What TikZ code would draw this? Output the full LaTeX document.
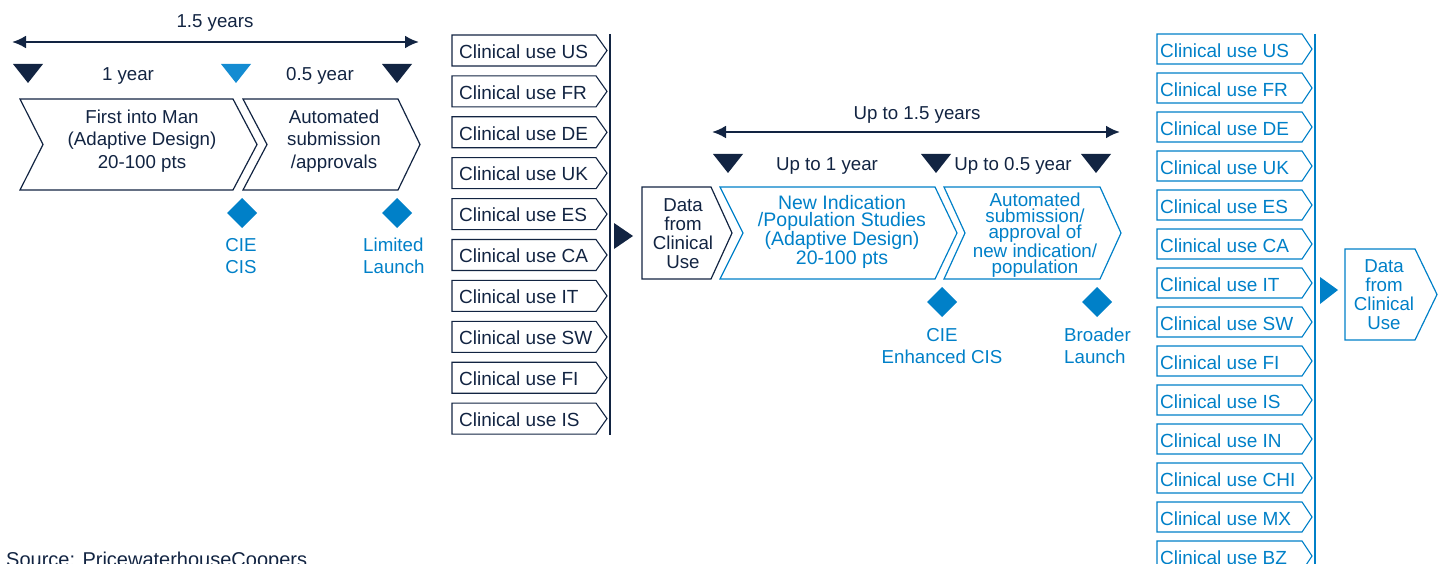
\documentclass[tikz,border=0pt]{standalone}
\usepackage{fontspec}
\setmainfont{Liberation Sans}
\usetikzlibrary{arrows.meta}
\definecolor{navy}{RGB}{18,36,66}
\definecolor{cblue}{RGB}{0,128,200}
\definecolor{tblue}{RGB}{20,140,210}
\newcommand\chevshape[7]{%
  \draw[#1, line width=1.2pt, line join=miter] (#2,#3) -- (#4,#3) -- ({#4+#7},{(#3+#5)/2}) -- (#4,#5) -- (#2,#5) -- ({#2+#6},{(#3+#5)/2}) -- cycle;}
\newcommand\tridown[3]{\fill[#1] ({#2-15},#3) -- ({#2+15},#3) -- (#2,{#3+19}) -- cycle;}
\newcommand\diam[3]{\fill[#1] ({#2-15},#3) -- (#2,{#3-15}) -- ({#2+15},#3) -- (#2,{#3+15}) -- cycle;}
\begin{document}
\begin{tikzpicture}[x=1pt,y=-1pt,
  txt/.style={font=\fontsize{18.7}{22.5}\selectfont, inner sep=0pt},
  boxtxt/.style={font=\fontsize{19}{22.5}\selectfont, inner sep=0pt},
  dimarrow/.style={navy, line width=2.5pt, {Latex[length=14pt,width=13pt]}-{Latex[length=14pt,width=13pt]}}]
\useasboundingbox (0,0) rectangle (1442,564);
\clip (0,0) rectangle (1442,564);

% ---------- left part ----------
\coordinate (aL1) at (12,42);
\coordinate (aR1) at (419,42);
\draw[dimarrow] (aL1) -- (aR1);
\node[txt, navy] (t15) at (215,23) {1.5 years};
\tridown{navy}{28}{64}
\tridown{tblue}{236}{64}
\tridown{navy}{397}{64}
\node[txt, navy] (t1y) at (128,76) {1 year};
\node[txt, navy] (t05y) at (320,76) {0.5 year};

\chevshape{navy}{20}{99}{233}{190}{23}{24}
\chevshape{navy}{243}{99}{398}{190}{24}{22}
\node[txt, navy, align=center] (fim) at (142,141) {First into Man\\(Adaptive Design)\\20-100 pts};
\node[txt, navy, align=center] (asa) at (334,141) {Automated\\submission\\/approvals};

\diam{cblue}{242}{213}
\diam{cblue}{397}{213}
\node[txt, cblue, align=center] (cie1) at (241,256) {CIE\\CIS};
\node[txt, cblue, align=left, anchor=west] (lim) at (363,256) {Limited\\Launch};

\foreach \c [count=\i from 0] in {US,FR,DE,UK,ES,CA,IT,SW,FI,IS} {
  \pgfmathsetmacro\t{35+40.9*\i}
  \draw[navy, line width=1.1pt] (452,\t) -- (596,\t) -- (607,\t+15.5) -- (596,\t+31) -- (452,\t+31) -- cycle;
  \node[boxtxt, navy, anchor=west] (L\c) at (459,\t+16.5) {Clinical use \c};
}
\draw[navy, line width=1.5pt] (610,34) -- (610,435);
\fill[navy] (614,223) -- (633,236) -- (614,249) -- cycle;

% ---------- middle part ----------
\coordinate (aL2) at (712,132);
\coordinate (aR2) at (1120,132);
\draw[dimarrow] (aL2) -- (aR2);
\node[txt, navy] (tu15) at (917,115) {Up to 1.5 years};
\tridown{navy}{728}{154}
\tridown{navy}{936}{154}
\tridown{navy}{1096}{154}
\node[txt, navy] (tu1) at (827,166) {Up to 1 year};
\node[txt, navy] (tu05) at (1013,166) {Up to 0.5 year};

\draw[navy, line width=1.2pt] (642,187) -- (711,187) -- (732,233) -- (711,279) -- (642,279) -- cycle;
\node[txt, navy, align=center, font=\fontsize{18.7}{19}\selectfont] (dfc1) at (683,234) {Data\\from\\Clinical\\Use};

\chevshape{cblue}{720}{187}{935}{279}{23}{22}
\chevshape{cblue}{944}{187}{1100}{279}{21}{21}
\node[txt, cblue, align=center, font=\fontsize{19.5}{16.7}\selectfont] (nip) at (842,232) {New Indication\\/Population Studies\\(Adaptive Design)\\20-100 pts};
\node[txt, cblue, align=center, font=\fontsize{18.8}{16.2}\selectfont] (asn) at (1035,235) {Automated\\submission/\\approval of\\new indication/\\population};

\diam{cblue}{942}{302}
\diam{cblue}{1097}{302}
\node[txt, cblue, align=center] (cie2) at (942,346) {CIE\\Enhanced CIS};
\node[txt, cblue, align=left, anchor=west] (brl) at (1064,346) {Broader\\Launch};

% ---------- right part ----------
\foreach \c [count=\i from 0] in {US,FR,DE,UK,ES,CA,IT,SW,FI,IS,IN,CHI,MX,BZ} {
  \pgfmathsetmacro\t{34+39*\i}
  \draw[cblue, line width=1.1pt] (1157,\t) -- (1302,\t) -- (1312,\t+15) -- (1302,\t+30) -- (1157,\t+30) -- cycle;
  \node[boxtxt, cblue, anchor=west] (R\c) at (1160,\t+17) {Clinical use \c};
}
\draw[cblue, line width=2.5pt] (1315,34) -- (1315,570);
\fill[cblue] (1320,277) -- (1338,290) -- (1320,304) -- cycle;

\draw[cblue, line width=1.2pt] (1345,249) -- (1415,249) -- (1437,294.5) -- (1415,340) -- (1345,340) -- cycle;
\node[txt, cblue, align=center, font=\fontsize{18.7}{19}\selectfont] (dfc2) at (1384,295) {Data\\from\\Clinical\\Use};

\node[txt, navy, anchor=base west, font=\fontsize{20}{22}\selectfont] (src) at (6,566) {Source: PricewaterhouseCoopers};
\end{tikzpicture}
\end{document}
